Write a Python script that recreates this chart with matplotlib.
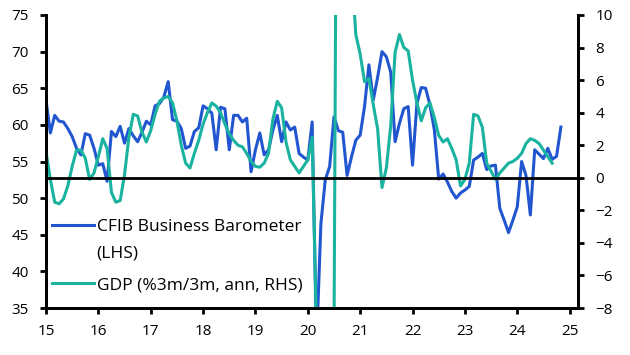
import numpy as np
import matplotlib
matplotlib.use("Agg")
import matplotlib.pyplot as plt
from matplotlib.lines import Line2D

plt.rcParams['font.family'] = ['Open Sans', 'DejaVu Sans']

# monthly, Jan 2015 onwards
cfib = [63.4, 58.9, 61.3, 60.5, 60.4, 59.5, 58.4, 56.8, 55.9, 58.8, 58.6, 56.8,
        54.5, 54.7, 52.3, 59.1, 58.4, 59.8, 57.5, 59.5, 58.5, 57.7, 59.0, 60.5,
        60.0, 62.6, 62.9, 63.8, 65.9, 60.7, 60.5, 59.5, 56.8, 57.1, 59.1, 59.6,
        62.6, 62.2, 61.6, 56.6, 62.4, 62.2, 56.6, 61.3, 61.3, 60.4, 60.9, 53.6,
        56.6, 58.9, 55.9, 56.6, 59.3, 61.3, 57.7, 60.4, 59.3, 59.7, 56.1, 55.6,
        55.2, 60.4, 30.0, 46.5, 52.5, 54.3, 61.1, 59.2, 59.0, 53.1, 55.6, 57.9,
        58.6, 62.5, 68.2, 63.4, 66.5, 70.0, 69.3, 67.2, 57.7, 60.2, 62.2, 62.5,
        54.5, 62.9, 65.1, 65.0, 62.7, 59.3, 52.6, 53.3, 52.2, 50.9, 50.0, 50.7,
        51.1, 51.6, 55.2, 55.6, 56.1, 53.9, 54.4, 54.5, 48.6, 47.0, 45.3, 47.0,
        48.8, 55.0, 53.1, 47.7, 56.6, 56.0, 55.4, 56.8, 55.3, 55.7, 59.7]

gdp = [1.6, -0.1, -1.5, -1.6, -1.3, -0.5, 0.7, 1.7, 1.7, 1.2, -0.1, 0.3,
       1.3, 2.4, 1.8, -0.9, -1.5, -1.4, 0.2, 2.5, 3.9, 3.8, 2.8, 2.2,
       2.9, 3.9, 4.7, 4.9, 5.0, 4.6, 3.5, 2.0, 0.9, 0.6, 1.5, 2.3,
       3.3, 4.0, 4.6, 4.4, 4.0, 3.3, 2.7, 2.3, 2.0, 1.9, 1.5, 1.0,
       0.7, 0.65, 0.9, 1.5, 3.6, 4.7, 4.3, 2.2, 1.1, 0.7, 0.3, 0.7,
       1.1, 2.5, -9.5, -40.0, -45.0, -35.0, -10.0, 45.0, 40.0, 25.0, 13.0, 8.8,
       7.6, 5.9, 6.1, 4.5, 3.0, -0.6, 0.6, 3.2, 7.7, 8.8, 8.0, 7.8,
       6.0, 4.6, 3.5, 4.3, 4.6, 3.7, 2.6, 2.2, 2.4, 1.8, 1.1, -0.5,
       -0.1, 0.9, 3.9, 3.8, 3.1, 0.9, 0.4, -0.1, 0.3, 0.6, 0.9, 1.0,
       1.2, 1.5, 2.1, 2.4, 2.3, 2.1, 1.7, 1.3, 0.9]

year_ticks = list(range(2015, 2026))
year_labels = [str(y)[2:] for y in year_ticks]

blue = "#2256d0"
teal = "#19b3a0"

x_cfib = 2015 + np.arange(len(cfib)) / 12
x_gdp = 2015 + np.arange(len(gdp)) / 12

fig = plt.figure(figsize=(6.3, 3.55), dpi=100)
ax = fig.add_axes([46 / 630, 1 - 308 / 355, 532 / 630, 293 / 355])
ax2 = ax.twinx()

ax.plot(x_cfib, cfib, color=blue, lw=2.2)
ax2.plot(x_gdp, gdp, color=teal, lw=2.2)
ax2.axhline(0, color="black", lw=2, zorder=5)

ax.set_xlim(2015, 2025.16)
ax.set_ylim(35, 75)
ax2.set_ylim(-8, 10)
ax.set_yticks(range(35, 76, 5))
ax2.set_yticks(range(-8, 11, 2))
ax.set_xticks(year_ticks)
ax.set_xticklabels(year_labels)

for a in (ax, ax2):
    a.spines["top"].set_visible(False)
    for s in ("left", "right", "bottom"):
        a.spines[s].set_linewidth(2)
ax.tick_params(axis="both", direction="out", length=4.5, width=2, labelsize=11)
ax.tick_params(axis="y", pad=8)
ax.tick_params(axis="x", pad=7)
ax2.tick_params(axis="y", direction="out", length=4.5, width=2, labelsize=11, pad=8)

leg1 = ax2.legend([Line2D([], [], color=blue, lw=2.2)], ["CFIB Business Barometer"],
                  loc="center left", bbox_to_anchor=(0.0118, 0.2754), frameon=False,
                  fontsize=12.5, handlelength=2.42, handletextpad=0.15,
                  borderpad=0, borderaxespad=0)
ax2.add_artist(leg1)
ax2.legend([Line2D([], [], color=teal, lw=2.2)], ["GDP (%3m/3m, ann, RHS)"],
           loc="center left", bbox_to_anchor=(0.0118, 0.0785), frameon=False,
           fontsize=12.5, handlelength=2.42, handletextpad=0.15,
           borderpad=0, borderaxespad=0)
ax2.text(0.0953, 0.1867, "(LHS)", transform=ax2.transAxes, fontsize=12.5,
         ha="left", va="center")

fig.savefig("out.png", dpi=100)
